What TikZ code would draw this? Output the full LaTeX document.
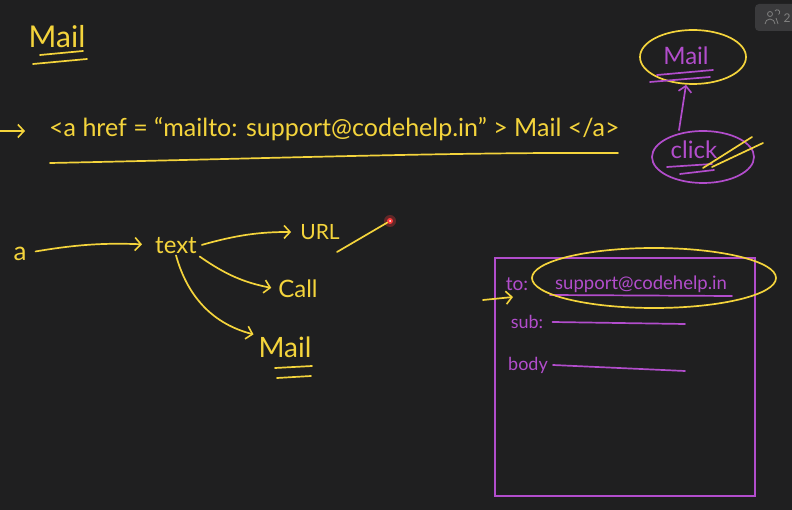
\documentclass[tikz,border=0pt]{standalone}
\usepackage{fontspec}
\setmainfont{Lato}
\usetikzlibrary{arrows.meta, positioning, calc, shapes.geometric}
\definecolor{boardBg}{HTML}{1F1F20}
\definecolor{penYellow}{HTML}{F4D43C}
\definecolor{penPurple}{HTML}{B24DCC}
\definecolor{penRed}{HTML}{FF3B3B}
\definecolor{badgeGrey}{HTML}{3A3A3C}
\newcommand{\hand}[1]{\fontsize{#1}{#1}\selectfont}

\begin{document}
\begin{tikzpicture}[
  x=1pt, y=-1pt,
  ink/.style={line width=1.7pt, line cap=round, line join=round},
  yel/.style={ink, draw=penYellow},
  pur/.style={ink, draw=penPurple},
  yword/.style={text=penYellow, inner sep=1pt, font=\hand{22}},
  pword/.style={text=penPurple, inner sep=1pt, font=\hand{18}},
  ring/.style={ellipse, ink, inner sep=0pt},
  tip/.style={-{Straight Barb[length=6pt, width=13pt, line width=1.6pt]}},
]

% board
\useasboundingbox (0,0) rectangle (792,510);
\clip (0,0) rectangle (792,510);
\fill[boardBg] (0,0) rectangle (792,510);

% ============================ heading =======================================
\node[yword, font=\hand{30}] (title) at (57,37) {Mail};
\draw[yel] (40,55) -- (83,51);
\draw[yel] (33,64) -- (87,59);

% ============================ the anchor tag ================================
\coordinate (leadA) at (-2,131);
\coordinate (leadB) at (25,131);
\draw[yel, tip] (leadA) -- (leadB);
\node[yword, font=\hand{25}, anchor=west] (code) at (48,129)
  {<a href = “mailto: support@codehelp.in” > Mail </a>};
\draw[yel] (50,163) .. controls (250,159) and (450,152) .. (618,153);

% ======================= click opens the mail app ===========================
\node[ring, draw=penYellow, minimum width=106pt, minimum height=54pt] (mailring) at (693,57) {};
\node[pword, font=\hand{24}] (mailword) at (686,56) {Mail};
\draw[pur] (657,75) -- (713,70);
\draw[pur] (650,82) -- (710,77);

\node[ring, draw=penPurple, minimum width=102pt, minimum height=52pt] (clickring) at (703,157) {};
\node[pword, font=\hand{24}] (clickword) at (694,150) {click};
\draw[pur] (667,167) -- (712,164);
\draw[pur] (680,174) -- (714,170);
\draw[yel] (703,168) -- (752,137);
\draw[yel] (712,167) -- (763,143);
\draw[pur, tip] ([xshift=-24pt]clickring.north) -- ([xshift=-7pt]mailring.south);

% ============================ a -> text -> ... ===============================
\node[yword, font=\hand{26}] (a) at (20,254) {a};
\node[yword, font=\hand{24}] (text) at (176,246) {text};
\node[yword, font=\hand{21}] (url) at (320,232) {URL};
\node[yword, font=\hand{24}] (call) at (298,289) {Call};
\node[yword, font=\hand{28}] (mail) at (285,347) {Mail};
\draw[yel] (275,368) -- (312,366);
\draw[yel] (277,378) -- (311,376);

\draw[yel, tip, shorten <=8pt, shorten >=12pt] (a) to[bend left=6] (text);
\draw[yel, tip, shorten <=4pt, shorten >=8pt] (text.east) to[bend left=8] (url.west);
\draw[yel, tip, shorten <=2pt, shorten >=6pt] (text.south east) to[bend right=12] (call.west);
\draw[yel, tip, shorten >=4pt] (text.south) to[bend right=30] (mail.north west);

% laser pointer
\node[circle, fill=penRed, inner sep=0pt, minimum size=6pt] (laser) at (390,221) {};
\fill[penRed, opacity=0.3] (laser) circle (6pt);
\fill[white] (laser) circle (1pt);
\coordinate (urlTail) at (337,252);
\draw[yel] (urlTail) -- (laser);

% ============================ mail compose box ==============================
\draw[penPurple, line width=1.4pt] (495,258) rectangle (755,496);
\node[pword, font=\hand{19}] (to) at (517,284) {to:};
\node[pword, font=\hand{18.5}] (addr) at (641,284) {support@codehelp.in};
\draw[pur] (550,295) -- (732,296);
\node[ring, draw=penYellow, minimum width=244pt, minimum height=60pt] (addrring) at (654,278) {};
\coordinate (toTail) at (483,300);
\coordinate (toHead) at (513,297);
\draw[yel, tip] (toTail) -- (toHead);

\node[pword, font=\hand{18}] (sub) at (527,322) {sub:};
\draw[pur] ([xshift=8pt]sub.east) -- (685,324);
\node[pword, font=\hand{18}] (body) at (528,365) {body};
\draw[pur] ([xshift=4pt]body.east) -- (685,371);

% ============================ viewer badge ==================================
\fill[badgeGrey, rounded corners=4pt] (755,4) rectangle (800,31);
\draw[gray, line width=0.8pt] (770,14) circle (2.5pt) (765,24) arc (180:0:5pt);
\draw[gray, line width=0.8pt] (775,11) arc (150:-60:2.5pt) (776,18) -- (778,24);
\node[text=gray, font=\hand{12}] (viewers) at (787,18) {2};
\end{tikzpicture}
\end{document}
